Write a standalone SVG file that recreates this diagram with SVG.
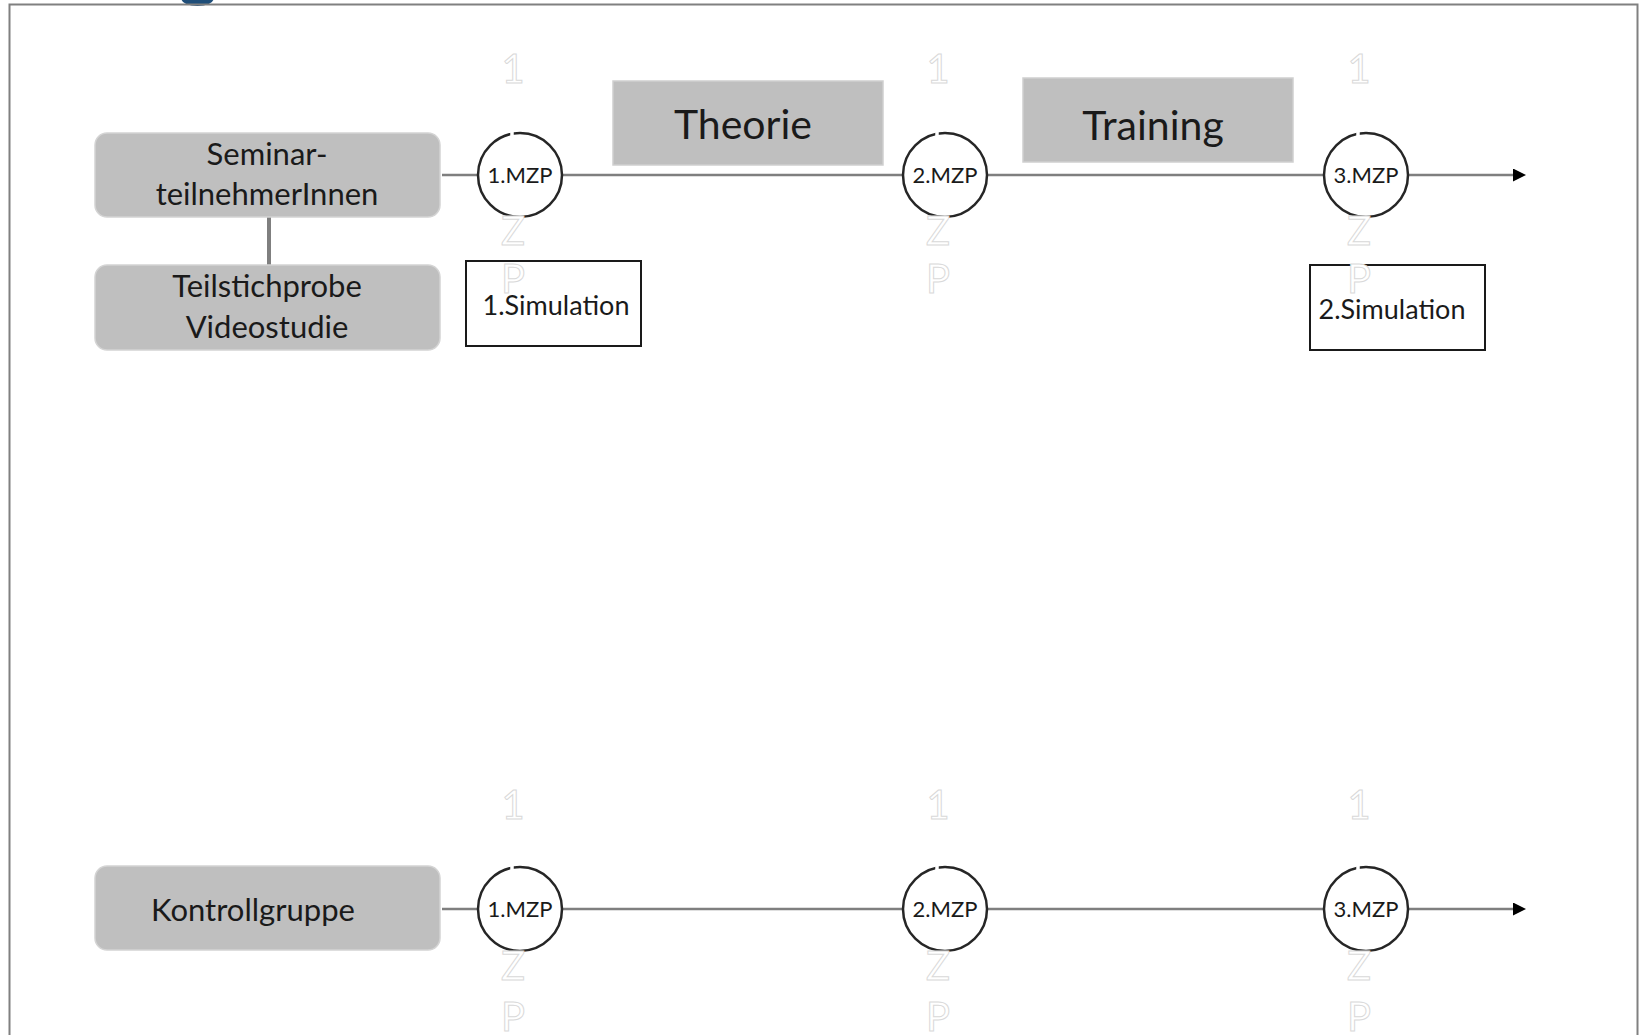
<svg xmlns="http://www.w3.org/2000/svg" width="1643" height="1035" viewBox="0 0 1643 1035">
<style>
.grp{fill:#bfbfbf;stroke:#d4d4d4;stroke-width:1.5}
.bar{fill:#bfbfbf;stroke:#cfcfcf;stroke-width:1.5}
.sim{fill:#ffffff;stroke:#1a1a1a;stroke-width:2}
.mzp{fill:#ffffff;stroke:#262626;stroke-width:2.5}
.tl{stroke:#7f7f7f;stroke-width:2.5;fill:none}
.lbl{font-family:Lato,"Open Sans","Liberation Sans",sans-serif;fill:#1a1a1a;text-anchor:middle}
.ghost{font-family:Lato,"Open Sans","Liberation Sans",sans-serif;font-size:40px;fill:#ffffff;stroke:#d9d9d9;stroke-width:1;text-anchor:middle}
.gap{stroke:#ffffff;stroke-width:3.5}
</style>
<defs>
<marker id="arr" viewBox="0 0 10 10" refX="0" refY="5" markerWidth="15" markerHeight="13" markerUnits="userSpaceOnUse" orient="auto">
<path d="M0,0 L10,5 L0,10 Z" fill="#000000"/>
</marker>
</defs>
<rect x="0" y="0" width="1643" height="1035" fill="#ffffff"/>
<ellipse cx="197.5" cy="-1" rx="16" ry="7" fill="#1f4e79"/>
<rect x="9.5" y="4.5" width="1628" height="1045" fill="none" stroke="#808080" stroke-width="2"/>

<g id="connectors">
<line class="tl" x1="269" y1="217" x2="269" y2="265" style="stroke-width:4"/>
<line class="tl" x1="442" y1="175" x2="1513" y2="175" marker-end="url(#arr)"/>
<line class="tl" x1="442" y1="909" x2="1513" y2="909" marker-end="url(#arr)"/>
</g>

<g id="seminar">
<rect class="grp" x="95" y="133" width="345" height="84" rx="12"/>
<text class="lbl" x="267" y="165" font-size="31">Seminar-</text>
<text class="lbl" x="267" y="205" font-size="31">teilnehmerInnen</text>
</g>
<g id="teilstichprobe">
<rect class="grp" x="95" y="265" width="345" height="85" rx="12"/>
<text class="lbl" x="267" y="297" font-size="31">Teilstichprobe</text>
<text class="lbl" x="267" y="338" font-size="31">Videostudie</text>
</g>
<g id="kontrollgruppe">
<rect class="grp" x="95" y="866" width="345" height="84" rx="12"/>
<text class="lbl" x="253" y="921" font-size="31">Kontrollgruppe</text>
</g>
<g id="theorie">
<rect class="bar" x="613" y="81" width="270" height="84"/>
<text class="lbl" x="743" y="139" font-size="41">Theorie</text>
</g>
<g id="training">
<rect class="bar" x="1023" y="78" width="270" height="84"/>
<text class="lbl" x="1153" y="140" font-size="41">Training</text>
</g>
<g id="sim1">
<rect class="sim" x="466" y="261" width="175" height="85"/>
<text class="lbl" x="556" y="315" font-size="27">1.Simulation</text>
</g>
<g id="sim2">
<rect class="sim" x="1310" y="265" width="175" height="85"/>
<text class="lbl" x="1392" y="319" font-size="27">2.Simulation</text>
</g>

<g id="mzp1-top">
<circle class="mzp" cx="520" cy="175" r="42"/>
<line class="gap" x1="512" y1="130" x2="512" y2="136"/>
<text class="lbl" x="520" y="183" font-size="22">1.MZP</text>
<text class="ghost" x="513" y="83">1</text>
<text class="ghost" x="513" y="245">Z</text>
<text class="ghost" x="513" y="293">P</text>
</g>
<g id="mzp2-top">
<circle class="mzp" cx="945" cy="175" r="42"/>
<line class="gap" x1="937" y1="130" x2="937" y2="136"/>
<text class="lbl" x="945" y="183" font-size="22">2.MZP</text>
<text class="ghost" x="938" y="83">1</text>
<text class="ghost" x="938" y="245">Z</text>
<text class="ghost" x="938" y="293">P</text>
</g>
<g id="mzp3-top">
<circle class="mzp" cx="1366" cy="175" r="42"/>
<line class="gap" x1="1358" y1="130" x2="1358" y2="136"/>
<text class="lbl" x="1366" y="183" font-size="22">3.MZP</text>
<text class="ghost" x="1359" y="83">1</text>
<text class="ghost" x="1359" y="245">Z</text>
<text class="ghost" x="1359" y="293">P</text>
</g>
<g id="mzp1-bottom">
<circle class="mzp" cx="520" cy="909" r="42"/>
<line class="gap" x1="512" y1="864" x2="512" y2="870"/>
<text class="lbl" x="520" y="917" font-size="22">1.MZP</text>
<text class="ghost" x="513" y="819">1</text>
<text class="ghost" x="513" y="980">Z</text>
<text class="ghost" x="513" y="1031">P</text>
</g>
<g id="mzp2-bottom">
<circle class="mzp" cx="945" cy="909" r="42"/>
<line class="gap" x1="937" y1="864" x2="937" y2="870"/>
<text class="lbl" x="945" y="917" font-size="22">2.MZP</text>
<text class="ghost" x="938" y="819">1</text>
<text class="ghost" x="938" y="980">Z</text>
<text class="ghost" x="938" y="1031">P</text>
</g>
<g id="mzp3-bottom">
<circle class="mzp" cx="1366" cy="909" r="42"/>
<line class="gap" x1="1358" y1="864" x2="1358" y2="870"/>
<text class="lbl" x="1366" y="917" font-size="22">3.MZP</text>
<text class="ghost" x="1359" y="819">1</text>
<text class="ghost" x="1359" y="980">Z</text>
<text class="ghost" x="1359" y="1031">P</text>
</g>
</svg>
